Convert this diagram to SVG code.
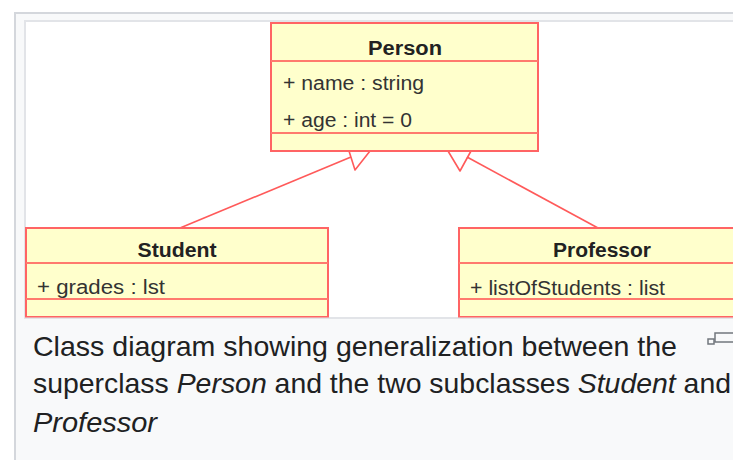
<svg xmlns="http://www.w3.org/2000/svg" width="733" height="460" viewBox="0 0 733 460">
  <style>
    .box { fill: #ffffcc; stroke: #ff6464; stroke-width: 2; }
    .div { stroke: #ff7a6e; stroke-width: 2; }
    .title { font-family: "Liberation Sans", Arial, sans-serif; font-weight: bold; font-size: 20px; fill: #222; text-anchor: middle; }
    .attr { font-family: "Liberation Sans", Arial, sans-serif; font-size: 20px; fill: #333; }
    .edge { fill: none; stroke: #ff5a5a; stroke-width: 1.6; stroke-linejoin: round; }
    .cap { font-family: "Liberation Sans", Arial, sans-serif; font-size: 28px; fill: #202122; }
  </style>

  <!-- page and figure frame -->
  <rect x="0" y="0" width="733" height="460" fill="#ffffff"/>
  <rect x="15" y="13" width="740" height="460" fill="#f8f9fa" stroke="#d4d7dc" stroke-width="2"/>
  <rect x="25" y="21" width="720" height="297" fill="#ffffff" stroke="#e2e4e8" stroke-width="2"/>

  <!-- generalization connectors -->
  <g id="connectors">
    <polyline class="edge" points="349,151 355,170 370,151"/>
    <line class="edge" x1="180" y1="228" x2="351" y2="157"/>
    <polyline class="edge" points="448,151 460,171 471,151"/>
    <line class="edge" x1="598" y1="228" x2="467" y2="157"/>
  </g>

  <g id="person">
    <rect class="box" x="271" y="23" width="267" height="128"/>
    <line class="div" x1="271" y1="61" x2="538" y2="61"/>
    <line class="div" x1="271" y1="133" x2="538" y2="133"/>
    <text class="title" x="405" y="55" textLength="74" lengthAdjust="spacingAndGlyphs">Person</text>
    <text class="attr" x="283" y="90" textLength="141" lengthAdjust="spacingAndGlyphs">+ name : string</text>
    <text class="attr" x="283" y="127" textLength="129" lengthAdjust="spacingAndGlyphs">+ age : int = 0</text>
  </g>

  <g id="student">
    <rect class="box" x="26" y="228" width="302" height="89"/>
    <line class="div" x1="26" y1="263" x2="328" y2="263"/>
    <line class="div" x1="26" y1="299" x2="328" y2="299"/>
    <text class="title" x="177" y="257" textLength="79" lengthAdjust="spacingAndGlyphs">Student</text>
    <text class="attr" x="37" y="294" textLength="128" lengthAdjust="spacingAndGlyphs">+ grades : lst</text>
  </g>

  <g id="professor">
    <rect class="box" x="459" y="228" width="290" height="89"/>
    <line class="div" x1="459" y1="263" x2="749" y2="263"/>
    <line class="div" x1="459" y1="299" x2="749" y2="299"/>
    <text class="title" x="602" y="257" textLength="98" lengthAdjust="spacingAndGlyphs">Professor</text>
    <text class="attr" x="470" y="295" textLength="195" lengthAdjust="spacingAndGlyphs">+ listOfStudents : list</text>
  </g>

  <!-- caption -->
  <line x1="25" y1="318" x2="733" y2="318" stroke="#e2e4e8" stroke-width="1"/>
  <text class="cap" x="33" y="356" textLength="644" lengthAdjust="spacingAndGlyphs">Class diagram showing generalization between the</text>
  <text class="cap" x="33" y="393" textLength="698" lengthAdjust="spacingAndGlyphs">superclass <tspan font-style="italic">Person</tspan> and the two subclasses <tspan font-style="italic">Student</tspan> and</text>
  <text class="cap" x="33" y="432" font-style="italic" textLength="124" lengthAdjust="spacingAndGlyphs">Professor</text>

  <!-- enlarge icon -->
  <g fill="none" stroke="#72777d" stroke-width="1.5">
    <rect x="715" y="333" width="20" height="9"/>
    <rect x="708" y="339" width="6" height="5" fill="#f8f9fa"/>
  </g>
</svg>
